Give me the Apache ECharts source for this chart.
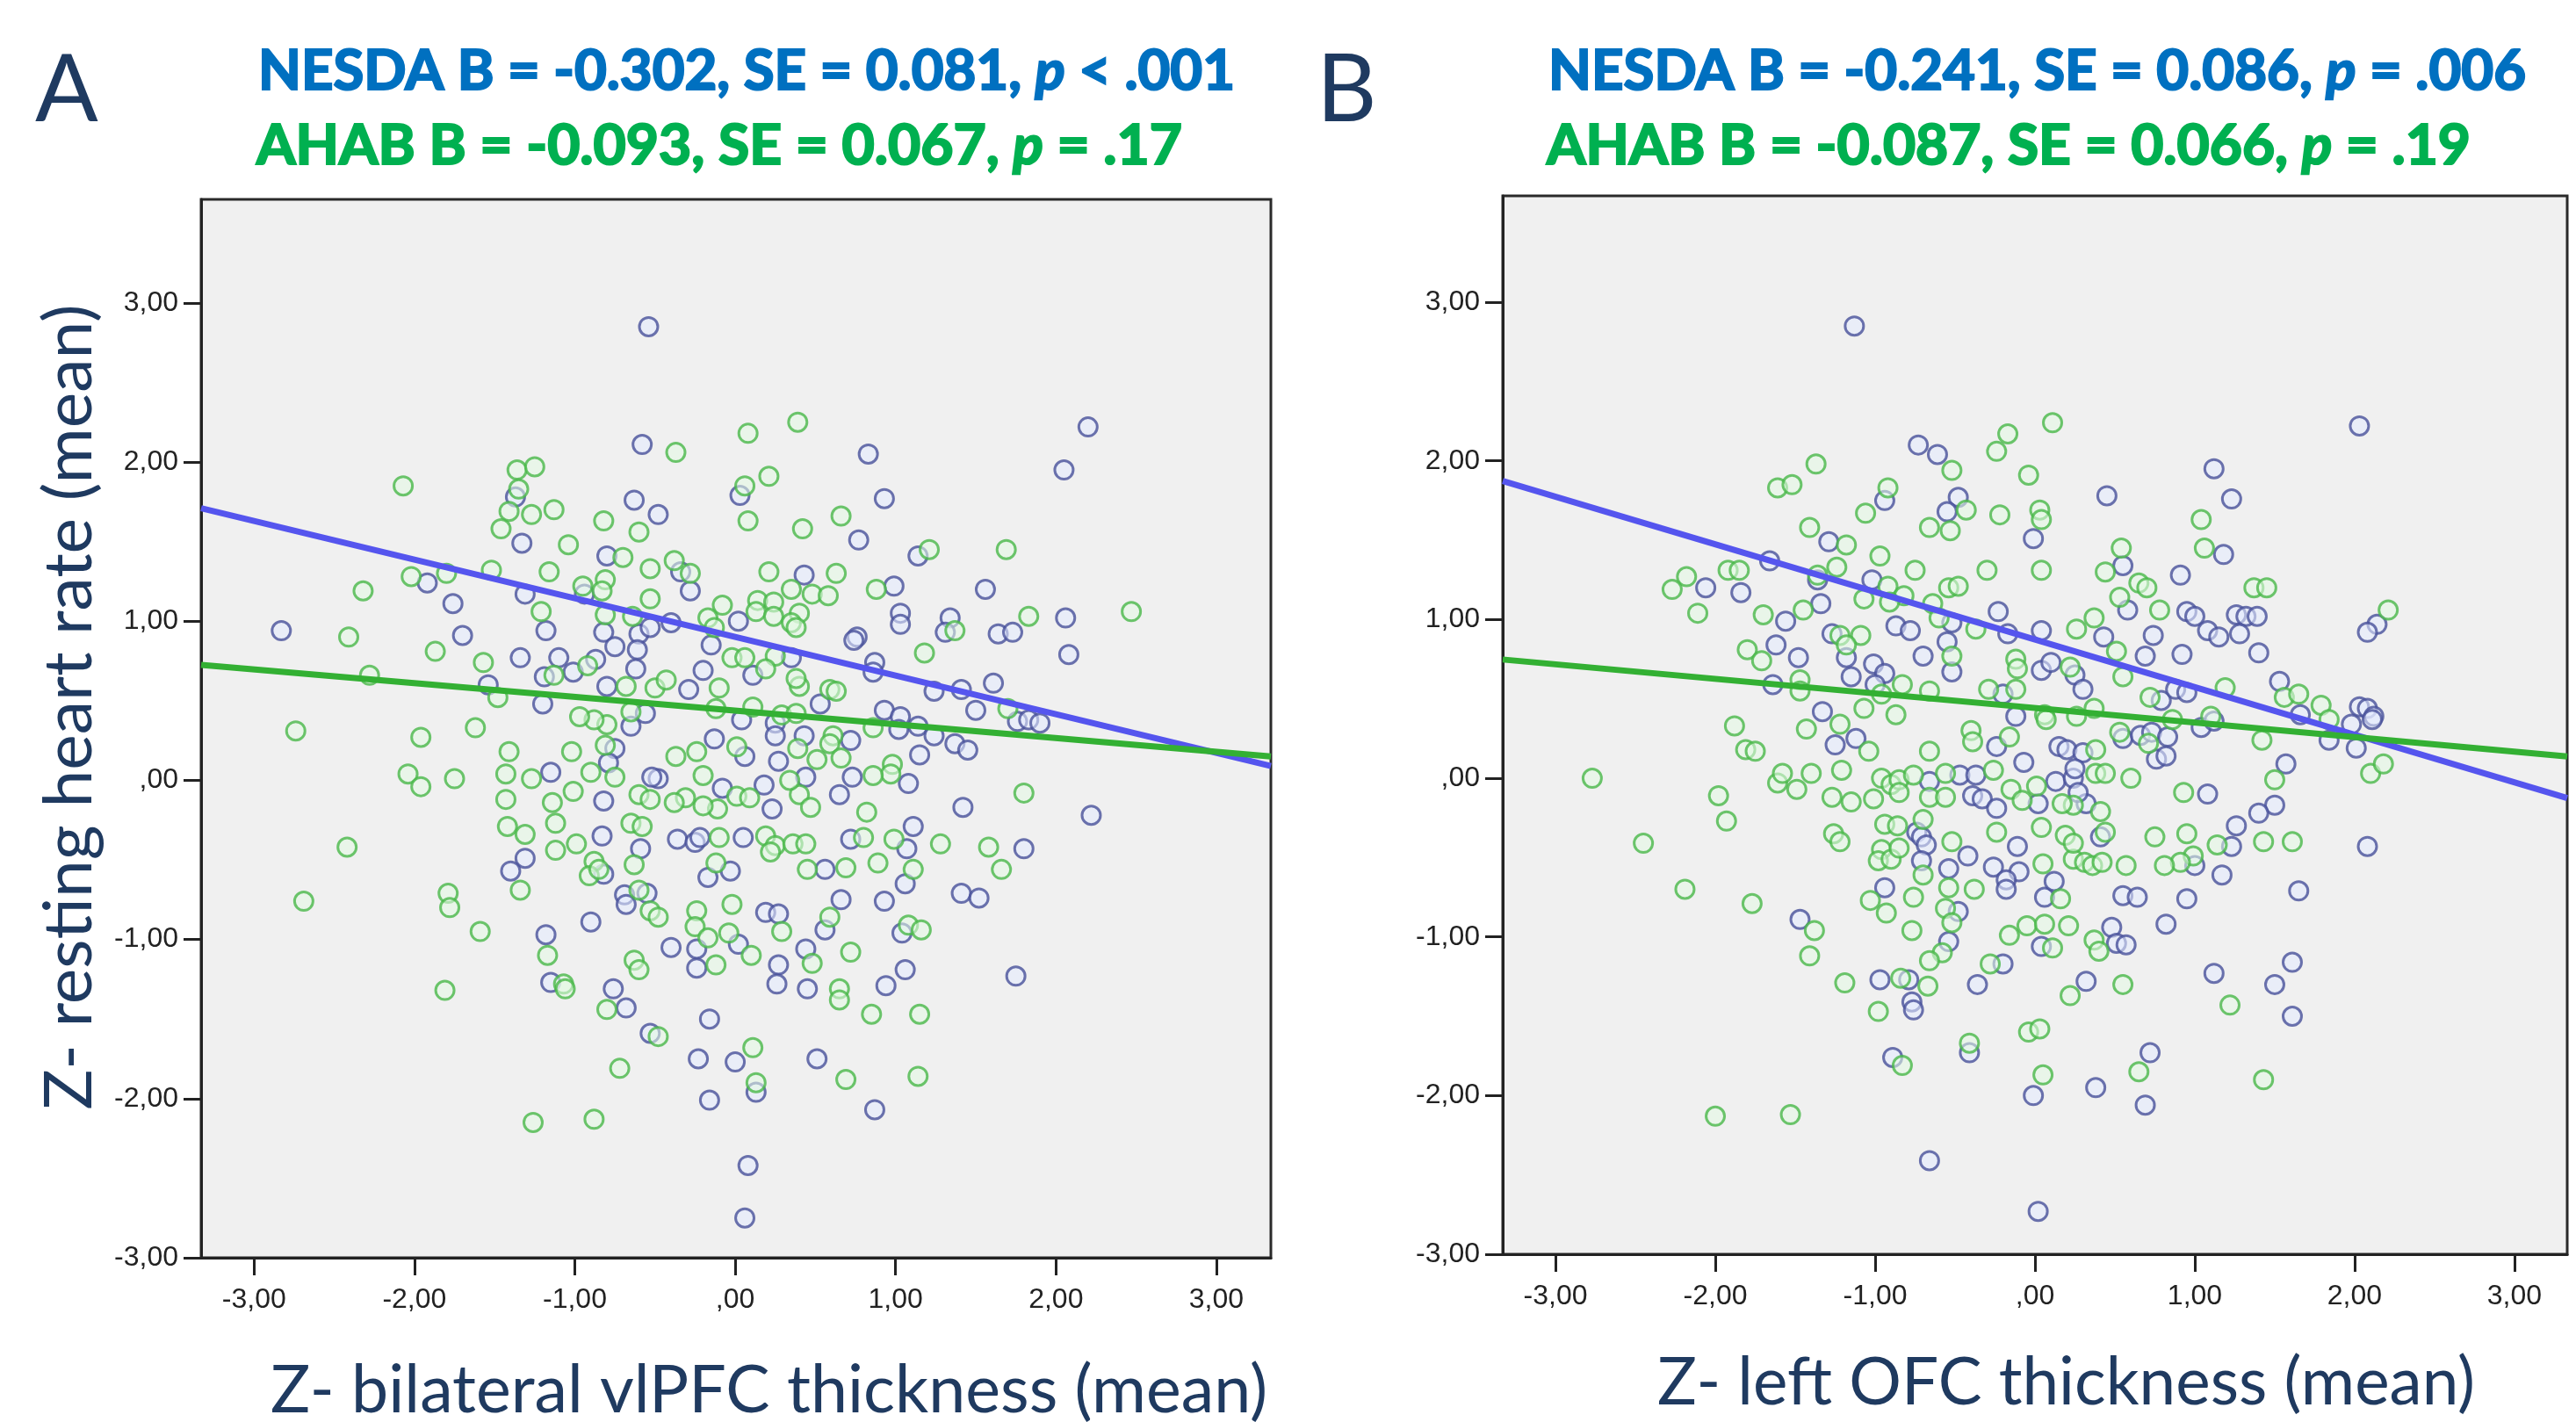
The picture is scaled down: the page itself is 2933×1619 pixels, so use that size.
<!DOCTYPE html>
<html>
<head>
<meta charset="utf-8">
<script src="https://cdn.jsdelivr.net/npm/echarts@6/dist/echarts.min.js"></script>
<style>
  html, body { margin: 0; padding: 0; background: #fff; }
  #chart { width: 2933px; height: 1619px; }
</style>
</head>
<body>
<div id="chart"></div>
<script>
// tick positions shared by both panels
const xTicks = [-3, -2, -1, 0, 1, 2, 3];
const yTicks = [-3, -2, -1, 0, 1, 2, 3];

// panel A: bilateral vlPFC thickness vs resting heart rate
const nesdaA = [
  [-0.54,2.85],[-0.58,2.11],[-1.37,1.78],[-1.33,1.49],[-0.63,1.76],[-0.48,1.67],[-0.80,1.41],[-1.92,1.24],[-1.76,1.11],[-2.83,0.94],
  [-1.70,0.91],[-1.34,0.77],[-1.31,1.17],[-0.94,1.17],[-1.18,0.94],[-0.82,0.93],[-0.60,0.92],[-0.53,0.96],[-0.75,0.84],[-0.61,0.82],
  [-1.10,0.77],[-0.87,0.76],[-1.01,0.68],[-1.19,0.65],[-0.62,0.70],[-1.54,0.60],[-0.80,0.59],
  [2.20,2.22],[2.05,1.95],[0.83,2.05],[0.03,1.79],[0.93,1.77],[0.77,1.51],[1.14,1.41],[-0.34,1.31],[-0.28,1.19],[0.43,1.29],
  [0.99,1.22],[1.56,1.20],[0.02,1.00],[-0.40,0.99],[1.03,1.05],[1.03,0.98],[1.34,1.02],[1.31,0.93],[2.06,1.02],[1.64,0.92],
  [1.73,0.93],[0.76,0.90],[0.74,0.88],[2.08,0.79],[-0.15,0.85],[0.35,0.77],[-0.20,0.69],[0.11,0.66],[0.87,0.74],[0.86,0.68],
  [1.61,0.61],[1.24,0.56],[1.41,0.57],[-0.29,0.57],
  [-1.15,0.05],[-0.82,-0.13],[-0.75,0.20],[-0.79,0.11],[-0.65,0.34],[-0.56,0.42],[-1.20,0.48],[-0.48,0.01],[-0.52,0.02],[-0.83,-0.35],
  [-0.59,-0.43],[-0.82,-0.59],[-1.31,-0.49],[-1.40,-0.57],[-0.69,-0.72],[-0.68,-0.78],[-0.55,-0.71],[-0.90,-0.89],[-1.18,-0.97],[-1.15,-1.27],
  [-0.76,-1.31],[-0.68,-1.43],[-0.53,-1.59],
  [0.04,0.38],[0.25,0.36],[0.25,0.28],[0.43,0.28],[0.53,0.48],[0.93,0.44],[1.03,0.40],[1.02,0.32],[0.72,0.25],[1.14,0.34],
  [1.24,0.28],[1.37,0.23],[1.45,0.19],[1.50,0.44],[1.76,0.37],[1.83,0.38],[1.90,0.36],[1.42,-0.17],[2.22,-0.22],[1.15,0.16],
  [1.08,-0.02],[0.73,0.02],[0.65,-0.09],[0.44,0.02],[0.27,0.12],[0.06,0.15],[-0.13,0.26],[-0.08,-0.05],[0.18,-0.03],[0.23,-0.18],
  [-0.36,-0.37],[-0.25,-0.39],[-0.22,-0.36],[0.05,-0.36],[0.72,-0.37],[1.11,-0.29],[1.07,-0.43],[1.80,-0.43],[1.06,-0.65],[0.56,-0.56],
  [0.66,-0.75],[0.93,-0.76],[1.41,-0.71],[1.52,-0.74],[-0.03,-0.57],[-0.17,-0.61],[0.19,-0.83],[0.27,-0.84],[0.56,-0.94],[0.02,-1.03],
  [-0.24,-1.06],[-0.40,-1.05],[-0.24,-1.18],[0.44,-1.06],[1.04,-0.96],[1.06,-1.19],[0.27,-1.16],[0.26,-1.28],[0.45,-1.31],[0.94,-1.29],
  [1.75,-1.23],[-0.16,-1.50],[-0.23,-1.75],[0.00,-1.77],[0.51,-1.75],[0.13,-1.96],[-0.16,-2.01],[0.87,-2.07],[0.08,-2.42],[0.06,-2.75]
];
const ahabA = [
  [-2.07,1.85],[-1.36,1.95],[-1.25,1.97],[-1.35,1.83],[-1.41,1.69],[-1.27,1.67],[-1.13,1.70],[-1.46,1.58],[-1.04,1.48],[-0.82,1.63],
  [-0.60,1.56],[-0.70,1.40],[-0.53,1.33],[-1.16,1.31],[-1.52,1.32],[-1.80,1.30],[-2.02,1.28],[-2.32,1.19],[-2.41,0.90],[-1.87,0.81],
  [-1.57,0.74],[-2.28,0.66],[-0.95,1.22],[-0.81,1.26],[-0.83,1.19],[-0.53,1.14],[-1.21,1.06],[-0.81,1.04],[-0.64,1.03],[-0.92,0.72],
  [-1.13,0.66],[-1.48,0.52],[-0.68,0.59],[-0.50,0.58],[-0.43,0.63],
  [-0.37,2.06],[0.08,2.18],[0.39,2.25],[0.21,1.91],[0.06,1.85],[0.08,1.63],[0.42,1.58],[0.66,1.66],[1.69,1.45],[1.21,1.45],
  [-0.38,1.38],[-0.28,1.30],[0.21,1.31],[0.63,1.30],[0.35,1.20],[0.48,1.17],[0.58,1.16],[0.88,1.20],[-0.08,1.10],[0.14,1.13],
  [0.24,1.12],[0.13,1.06],[0.24,1.03],[0.40,1.05],[0.35,0.99],[0.38,0.96],[-0.17,1.02],[-0.13,0.96],[1.37,0.94],[1.83,1.03],
  [2.47,1.06],[1.18,0.80],[-0.02,0.77],[0.06,0.77],[0.25,0.78],[0.19,0.70],[-0.10,0.58],[0.40,0.59],[0.38,0.64],[0.59,0.57],[0.63,0.56],
  [-2.74,0.31],[-1.96,0.27],[-1.62,0.33],[-2.04,0.04],[-1.96,-0.04],[-1.75,0.01],[-1.41,0.18],[-1.43,0.04],[-1.27,0.01],[-1.43,-0.12],
  [-1.42,-0.29],[-1.31,-0.34],[-1.14,-0.14],[-1.12,-0.27],[-1.12,-0.44],[-0.99,-0.40],[-1.02,0.18],[-0.90,0.05],[-1.01,-0.07],[-0.80,0.35],
  [-0.88,0.38],[-0.97,0.40],[-0.81,0.22],[-0.75,0.02],[-0.65,0.43],[-0.60,-0.09],[-0.53,-0.12],[-0.65,-0.27],[-0.58,-0.29],[-0.63,-0.53],
  [-0.88,-0.51],[-0.91,-0.60],[-0.85,-0.56],[-1.34,-0.69],[-0.60,-0.69],[-0.53,-0.82],[-0.48,-0.86],[-1.79,-0.71],[-1.78,-0.80],[-2.42,-0.42],
  [-2.69,-0.76],[-1.59,-0.95],[-1.17,-1.10],[-1.07,-1.28],[-1.06,-1.31],[-0.80,-1.44],[-0.63,-1.13],[-0.60,-1.19],[-0.48,-1.61],[-1.81,-1.32],
  [-0.72,-1.81],[-1.26,-2.15],[-0.88,-2.13],
  [0.29,0.41],[0.38,0.42],[-0.12,0.45],[0.11,0.46],[0.86,0.33],[0.61,0.28],[0.59,0.23],[1.70,0.45],[1.80,-0.08],[0.98,0.10],
  [0.97,0.04],[0.86,0.03],[0.82,-0.20],[0.51,0.13],[0.66,0.14],[0.39,0.20],[0.01,0.21],[-0.24,0.18],[-0.37,0.15],[-0.20,0.03],
  [0.01,-0.10],[0.09,-0.11],[-0.11,-0.18],[-0.20,-0.16],[-0.31,-0.11],[-0.38,-0.14],[0.40,-0.09],[0.47,-0.17],[0.34,0.00],[-0.10,-0.36],
  [0.19,-0.35],[0.25,-0.41],[0.22,-0.45],[0.36,-0.40],[0.44,-0.40],[0.80,-0.36],[0.99,-0.37],[1.28,-0.40],[1.58,-0.42],[1.66,-0.56],
  [1.11,-0.56],[0.89,-0.52],[0.69,-0.55],[0.45,-0.56],[-0.12,-0.52],[-0.02,-0.78],[0.29,-0.95],[0.59,-0.86],[-0.24,-0.82],[-0.25,-0.92],
  [-0.17,-0.99],[-0.04,-0.96],[0.10,-1.10],[-0.12,-1.16],[0.48,-1.15],[0.72,-1.08],[1.08,-0.91],[1.16,-0.94],[0.65,-1.31],[0.65,-1.38],
  [0.85,-1.47],[1.15,-1.47],[0.11,-1.68],[0.69,-1.88],[1.14,-1.86],[0.13,-1.90]
];
// fit lines read at the plot edges
const nesdaFitA = [[-3.33,1.71],[3.34,0.09]];
const ahabFitA = [[-3.33,0.725],[3.34,0.15]];

// panel B: left OFC thickness vs resting heart rate
const nesdaB = [
  [-1.13,2.85],[-0.73,2.10],[-0.61,2.04],[-0.94,1.75],[-0.48,1.77],[-0.55,1.68],[-1.29,1.49],[-0.01,1.51],[-1.66,1.37],[-2.06,1.20],
  [-1.84,1.17],[-1.36,1.25],[-1.02,1.25],[-0.23,1.05],[-0.17,0.91],[-0.52,0.98],[-1.34,1.10],[-1.56,0.99],[-1.27,0.91],[-0.87,0.96],
  [-0.78,0.93],[-0.55,0.86],[-1.18,0.76],[-1.62,0.84],[-1.48,0.76],[-0.70,0.77],[-0.52,0.67],[-1.15,0.64],[-1.01,0.72],[-0.94,0.66],
  [-1.00,0.59],[-1.64,0.59],[-0.20,0.53],[-0.12,0.39],[-1.33,0.42],
  [2.03,2.22],[1.12,1.95],[0.45,1.78],[1.23,1.76],[1.18,1.41],[0.55,1.34],[0.91,1.28],[0.58,1.06],[0.95,1.05],[1.00,1.02],
  [1.08,0.93],[1.15,0.89],[1.26,1.03],[1.32,1.02],[1.39,1.02],[1.28,0.91],[1.40,0.79],[2.14,0.97],[2.08,0.92],[0.04,0.93],
  [0.43,0.89],[0.74,0.90],[0.69,0.77],[0.92,0.78],[0.25,0.65],[0.04,0.68],[0.10,0.73],[0.30,0.56],[0.79,0.49],[0.88,0.56],
  [0.95,0.54],[1.53,0.61],[2.03,0.45],[2.08,0.44],[2.12,0.39],[1.66,0.40],
  [-1.25,0.21],[-1.12,0.25],[-0.66,-0.02],[-0.47,0.02],[-0.24,0.20],[-0.07,0.10],[-0.37,0.02],[-0.39,-0.11],[-0.33,-0.13],[-0.24,-0.19],
  [-0.74,-0.34],[-0.71,-0.37],[-0.68,-0.42],[-0.71,-0.52],[-0.42,-0.49],[-0.11,-0.43],[-0.26,-0.56],[-0.10,-0.59],[-0.18,-0.64],[-0.18,-0.70],
  [-0.54,-0.57],[-0.94,-0.69],[-0.48,-0.84],[-0.54,-1.03],[-0.79,-1.27],[-0.97,-1.27],[-0.77,-1.41],[-0.76,-1.46],[-0.36,-1.30],[-0.20,-1.17],
  [-1.47,-0.89],[-0.41,-1.73],[-0.89,-1.76],[-0.01,-2.00],[-0.66,-2.41],
  [1.57,0.09],[1.50,-0.17],[1.40,-0.22],[1.26,-0.30],[1.23,-0.43],[1.17,-0.61],[1.65,-0.71],[2.08,-0.43],[2.01,0.19],[1.98,0.34],
  [2.11,0.37],[1.84,0.24],[1.08,-0.10],[1.00,-0.55],[0.95,-0.76],[0.82,-0.92],[0.55,-0.74],[0.64,-0.75],[0.48,-0.94],[0.51,-1.04],
  [0.57,-1.05],[0.04,-1.06],[0.06,-0.75],[0.12,-0.65],[0.41,-0.37],[0.32,-0.16],[0.02,-0.16],[0.13,-0.02],[0.24,0.00],[0.27,-0.09],
  [0.15,0.20],[0.20,0.18],[0.30,0.16],[0.25,0.06],[0.55,0.25],[0.66,0.27],[0.73,0.29],[0.83,0.26],[0.76,0.12],[0.82,0.14],
  [1.04,0.32],[1.12,0.36],[0.32,-1.28],[1.12,-1.23],[1.61,-1.16],[1.50,-1.30],[1.61,-1.50],[0.72,-1.73],[0.38,-1.95],[0.69,-2.06],[0.02,-2.73]
];
const ahabB = [
  [-0.52,1.94],[-0.17,2.17],[-0.24,2.06],[-0.04,1.91],[-1.37,1.98],[-1.61,1.83],[-1.52,1.85],[-0.92,1.83],[-0.43,1.69],[-0.22,1.66],
  [-1.06,1.67],[-1.41,1.58],[-1.18,1.47],[-0.66,1.58],[-0.53,1.56],[-0.97,1.40],[-0.75,1.31],[-0.30,1.31],[-1.24,1.33],[-1.92,1.31],
  [-1.85,1.31],[-2.18,1.27],[-2.27,1.19],[-2.11,1.04],[-1.36,1.28],[-0.92,1.21],[-0.82,1.15],[-1.07,1.13],[-0.91,1.11],[-0.54,1.20],
  [-0.48,1.21],[-0.64,1.10],[-0.60,1.01],[-0.37,0.94],[-1.45,1.06],[-1.70,1.03],[-1.22,0.90],[-1.09,0.90],[-1.18,0.84],[-1.80,0.81],
  [-1.71,0.74],[-0.52,0.77],[-0.83,0.59],[-0.66,0.55],[-1.47,0.62],[-0.12,0.75],[-0.11,0.69],[-0.29,0.56],[-0.12,0.56],[-0.87,0.40],
  [-1.47,0.55],[-0.96,0.53],[-1.07,0.44],
  [0.11,2.24],[0.03,1.69],[0.04,1.63],[1.04,1.63],[1.06,1.45],[0.54,1.45],[0.44,1.30],[0.04,1.31],[0.65,1.23],[0.70,1.20],
  [0.53,1.14],[0.78,1.06],[1.37,1.20],[1.45,1.20],[2.21,1.06],[0.26,0.94],[0.37,1.01],[0.51,0.80],[0.22,0.70],[0.55,0.64],
  [0.72,0.51],[1.19,0.57],[1.56,0.51],[1.65,0.53],[1.79,0.46],[0.37,0.44],[0.06,0.40],[0.26,0.39],[1.10,0.39],
  [-1.88,0.33],[-1.43,0.31],[-1.81,0.18],[-1.75,0.17],[-2.77,0.00],[-1.98,-0.11],[-1.93,-0.27],[-2.45,-0.41],[-2.19,-0.70],[-1.77,-0.79],
  [-1.61,-0.03],[-1.58,0.03],[-1.49,-0.07],[-1.40,0.03],[-1.27,-0.12],[-1.15,-0.15],[-1.21,0.05],[-1.22,0.34],[-1.04,0.17],[-1.01,-0.13],
  [-0.96,0.00],[-0.90,-0.04],[-0.85,-0.01],[-0.85,-0.09],[-0.76,0.02],[-0.66,0.17],[-0.66,-0.12],[-0.56,-0.12],[-0.56,0.03],[-0.40,0.30],
  [-0.39,0.23],[-0.16,0.26],[-0.26,0.05],[-0.15,-0.07],[-0.08,-0.14],[-0.94,-0.29],[-0.86,-0.30],[-1.26,-0.35],[-1.22,-0.40],[-0.96,-0.45],
  [-0.98,-0.52],[-0.90,-0.51],[-0.85,-0.44],[-0.70,-0.26],[-0.70,-0.61],[-0.52,-0.40],[-0.24,-0.34],[-0.54,-0.69],[-0.38,-0.70],[-1.03,-0.77],
  [-0.93,-0.85],[-0.76,-0.75],[-0.77,-0.96],[-0.56,-0.82],[-0.52,-0.91],[-0.58,-1.10],[-0.66,-1.15],[-0.67,-1.31],[-0.84,-1.26],[-1.19,-1.29],
  [-0.98,-1.47],[-0.28,-1.17],[-0.16,-0.99],[-0.05,-0.93],[-1.38,-0.96],[-1.41,-1.12],[-0.04,-1.60],[-0.41,-1.67],[-0.83,-1.81],[-2.00,-2.13],[-1.53,-2.12],
  [1.42,0.24],[1.50,-0.01],[1.43,-0.40],[1.61,-0.40],[1.14,-0.42],[2.10,0.03],[2.18,0.09],[1.84,0.37],[0.93,-0.09],[0.60,0.00],
  [0.75,-0.37],[0.95,-0.35],[0.99,-0.49],[0.91,-0.53],[0.81,-0.55],[0.57,-0.55],[0.37,-1.02],[0.40,-1.09],[0.21,-0.93],[0.11,-1.07],
  [0.06,-0.92],[0.16,-0.76],[0.05,-0.54],[0.24,-0.51],[0.31,-0.53],[0.36,-0.55],[0.42,-0.53],[0.19,-0.36],[0.24,-0.41],[0.44,-0.34],
  [0.04,-0.31],[0.41,-0.21],[0.24,-0.17],[0.17,-0.16],[0.01,-0.05],[0.38,0.03],[0.44,0.03],[0.38,0.18],[0.07,0.37],[0.53,0.29],
  [0.71,0.22],[0.86,0.37],[0.22,-1.37],[0.55,-1.30],[1.22,-1.43],[0.03,-1.58],[0.05,-1.87],[0.65,-1.85],[1.43,-1.90]
];
const nesdaFitB = [[-3.33,1.873],[3.33,-0.125]];
const ahabFitB = [[-3.33,0.748],[3.33,0.137]];

const NAVY = '#1f3a60';
const BLUE_TXT = '#0070c0';
const GREEN_TXT = '#00b050';

const fmt = (v) => (v === 0 ? ',00' : v.toFixed(2).replace('.', ','));

// measure text so the Calibri-like lines can be squeezed to the picture's width
const measureCtx = document.createElement('canvas').getContext('2d');
const textWidth = (parts) =>
  parts.reduce((w, [t, font]) => {
    measureCtx.font = font;
    return w + measureCtx.measureText(t).width;
  }, 0);

const statLine = (x, y, width, color, before, after) => {
  const size = 63;
  const w = textWidth([
    [before, `bold ${size}px Lato`],
    ['p', `italic bold ${size}px Lato`],
    [after, `bold ${size}px Lato`],
  ]);
  // a thin stroke in the same colour gives the heavier Calibri Bold look
  const part = { fontFamily: 'Lato', fontWeight: 'bold', fontSize: size, fill: color, stroke: color, lineWidth: 2.2 };
  return {
    type: 'text', x, y, scaleX: width / w, z: 10,
    style: {
      text: `{b|${before}}{i|p}{b|${after}}`,
      align: 'left', verticalAlign: 'middle', fill: color,
      rich: { b: part, i: { ...part, fontStyle: 'italic' } },
    },
  };
};

const plainText = (x, y, width, text, size, opts = {}) => {
  const w = textWidth([[text, `${size}px Lato`]]);
  return {
    type: 'text', x, y, z: 10,
    scaleX: width ? width / w : 1,
    rotation: opts.rotation || 0,
    style: {
      text, fill: NAVY, fontFamily: 'Lato', fontSize: size,
      align: opts.align || 'left', verticalAlign: 'middle',
    },
  };
};

const xAxisOf = (gridIndex, min, max) => ({
  gridIndex, type: 'value', min, max,
  axisLine: { show: true, onZero: false, lineStyle: { color: '#222', width: 3 } },
  axisTick: { show: true, length: 20, customValues: xTicks, lineStyle: { color: '#222', width: 3 } },
  axisLabel: { customValues: xTicks, formatter: fmt, margin: 32, fontSize: 32, color: '#222', fontFamily: 'Liberation Sans' },
  splitLine: { show: false },
});

const yAxisOf = (gridIndex, min, max) => ({
  gridIndex, type: 'value', min, max,
  axisLine: { show: true, onZero: false, lineStyle: { color: '#222', width: 3 } },
  axisTick: { show: true, length: 20, customValues: yTicks, lineStyle: { color: '#222', width: 3 } },
  axisLabel: { customValues: yTicks, formatter: fmt, margin: 26, fontSize: 32, color: '#222', fontFamily: 'Liberation Sans' },
  splitLine: { show: false },
});

const points = (data, idx, stroke, fill) => ({
  type: 'scatter', data, xAxisIndex: idx, yAxisIndex: idx,
  symbol: 'circle', symbolSize: 21, z: 2,
  itemStyle: { color: fill, borderColor: stroke, borderWidth: 3 },
  emphasis: { disabled: true },
});

const fitLine = (data, idx, color) => ({
  type: 'line', data, xAxisIndex: idx, yAxisIndex: idx,
  symbol: 'none', z: 5, silent: true,
  lineStyle: { color, width: 7 },
});

const BLUE_PT = '#47509a';
const GREEN_PT = '#48b848';
const BLUE_FILL = 'rgba(228,236,255,0.7)';
const GREEN_FILL = 'rgba(228,250,228,0.7)';

const chart = echarts.init(document.getElementById('chart'));

chart.setOption({
  backgroundColor: '#ffffff',
  animation: false,
  grid: [
    { left: 229, top: 227, width: 1218, height: 1205, show: true, backgroundColor: '#f0f0f0', borderColor: '#2a2a2a', borderWidth: 3 },
    { left: 1711, top: 223, width: 1212, height: 1205, show: true, backgroundColor: '#f0f0f0', borderColor: '#2a2a2a', borderWidth: 3 },
  ],
  xAxis: [xAxisOf(0, -3.33, 3.34), xAxisOf(1, -3.33, 3.33)],
  yAxis: [yAxisOf(0, -3, 3.65), yAxisOf(1, -3, 3.67)],
  series: [
    points(nesdaA, 0, BLUE_PT, BLUE_FILL),
    points(ahabA, 0, GREEN_PT, GREEN_FILL),
    fitLine(nesdaFitA, 0, '#5555ee'),
    fitLine(ahabFitA, 0, '#33b033'),
    points(nesdaB, 1, BLUE_PT, BLUE_FILL),
    points(ahabB, 1, GREEN_PT, GREEN_FILL),
    fitLine(nesdaFitB, 1, '#5555ee'),
    fitLine(ahabFitB, 1, '#33b033'),
  ],
  graphic: [
    plainText(40, 104, 0, 'A', 106),
    plainText(1499, 104, 0, 'B', 106),
    statLine(294, 82, 1112, BLUE_TXT, 'NESDA B = -0.302, SE = 0.081, ', ' < .001'),
    statLine(292, 167, 1054, GREEN_TXT, 'AHAB B = -0.093, SE = 0.067, ', ' = .17'),
    statLine(1763, 82, 1113, BLUE_TXT, 'NESDA B = -0.241, SE = 0.086, ', ' = .006'),
    statLine(1761, 167, 1052, GREEN_TXT, 'AHAB B = -0.087, SE = 0.066, ', ' = .19'),
    plainText(308, 1584, 1135, 'Z- bilateral vlPFC thickness (mean)', 75),
    plainText(1887, 1575, 931, 'Z- left OFC thickness (mean)', 75),
    plainText(80, 805, 917, 'Z- resting heart rate (mean)', 75, { align: 'center', rotation: Math.PI / 2 }),
  ],
});
</script>
</body>
</html>
